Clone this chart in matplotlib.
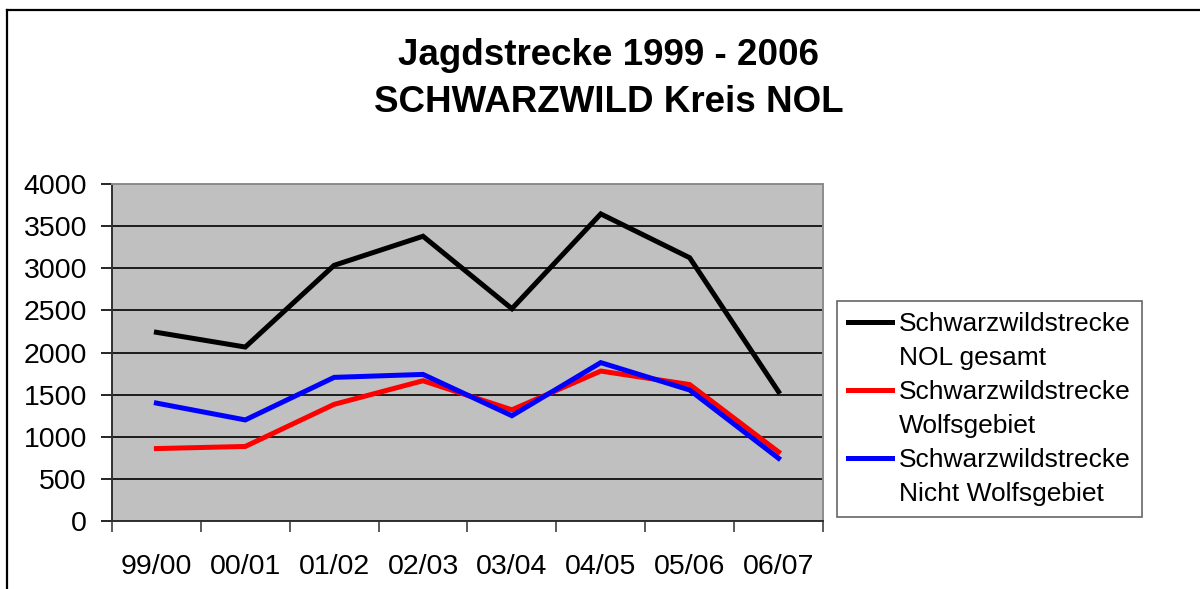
import matplotlib.pyplot as plt
from matplotlib.lines import Line2D

plt.rcParams['font.family'] = ['Liberation Sans', 'DejaVu Sans']

seasons = ["99/00", "00/01", "01/02", "02/03", "03/04", "04/05", "05/06", "06/07"]
nol_gesamt = [2240, 2065, 3035, 3380, 2520, 3645, 3125, 1535]
wolfsgebiet = [860, 885, 1385, 1665, 1320, 1780, 1620, 820]
nicht_wolfsgebiet = [1400, 1200, 1705, 1740, 1250, 1880, 1555, 745]

series_colors = ["black", "#ff0000", "#0000ff"]
labels = [("Schwarzwildstrecke", "NOL gesamt"),
          ("Schwarzwildstrecke", "Wolfsgebiet"),
          ("Schwarzwildstrecke", "Nicht Wolfsgebiet")]

fig = plt.figure(figsize=(12, 5.89), dpi=100)
ax = fig.add_axes([0.0933, 0.1154, 0.5925, 0.5722])
ax.set_facecolor("#c0c0c0")

x = range(len(seasons))
ax.plot(x, nol_gesamt, color=series_colors[0], lw=3.6, solid_joinstyle="miter", zorder=3)
ax.plot(x, wolfsgebiet, color=series_colors[1], lw=3.6, solid_joinstyle="miter", zorder=3)
ax.plot(x, nicht_wolfsgebiet, color=series_colors[2], lw=3.6, solid_joinstyle="miter", zorder=4)

ax.set_xlim(-0.5, len(seasons) - 0.5)
ax.set_ylim(0, 4000)
ax.set_yticks(range(0, 4001, 500))
ax.yaxis.grid(True, color="black", lw=1.2)
ax.set_axisbelow(True)

# category labels centred, tick marks between categories
ax.set_xticks(list(x))
ax.set_xticklabels(seasons, fontsize=20.5)
ax.tick_params(axis="x", length=0, pad=24)
ax.set_xticks([i - 0.5 for i in range(len(seasons) + 1)], minor=True)
ax.tick_params(axis="x", which="minor", length=8, width=1.2, color="#404040", direction="out")
ax.tick_params(axis="y", labelsize=20.5, length=8, width=1.2, pad=10, direction="out")

for side in ["left", "bottom"]:
    ax.spines[side].set_color("#303030")
    ax.spines[side].set_linewidth(1.4)
for side in ["top", "right"]:
    ax.spines[side].set_color("#8c8c8c")
    ax.spines[side].set_linewidth(1.4)

# legend: line sample only next to the first line of each two-line label
handles, texts = [], []
for c, (l1, l2) in zip(series_colors, labels):
    handles += [Line2D([], [], color=c, lw=3.6), Line2D([], [], color="none")]
    texts += [l1, l2]
leg = fig.legend(handles, texts, loc="upper left", bbox_to_anchor=(0.6975, 0.489),
                 fontsize=19, frameon=True, fancybox=False, handlelength=1.65,
                 handletextpad=0.27, labelspacing=0.38, borderpad=0.42, borderaxespad=0)
leg.get_frame().set_edgecolor("#404040")
leg.get_frame().set_linewidth(1.2)

fig.text(0.507, 0.935, "Jagdstrecke 1999 - 2006\nSCHWARZWILD Kreis NOL",
         ha="center", va="top", fontsize=26.5, fontweight="bold", linespacing=1.42)

# outer chart frame (cut off at right and bottom)
fig.add_artist(Line2D([0.006, 0.006], [0.983, 0.0], color="black", lw=1.6))
fig.add_artist(Line2D([0.006, 1.0], [0.983, 0.983], color="black", lw=1.6))

plt.savefig("out.png")
